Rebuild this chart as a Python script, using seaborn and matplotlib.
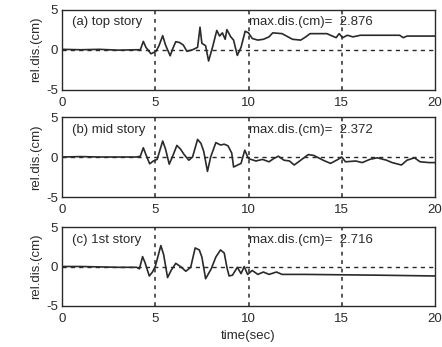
import matplotlib
matplotlib.use("Agg")
import matplotlib.pyplot as plt
import seaborn as sns

# ---- data ----
panel_titles = ["(a) top story", "(b) mid story", "(c) 1st story"]
max_dis = ["2.876", "2.372", "2.716"]
x_ticks = [0, 5, 10, 15, 20]
y_ticks = [-5, 0, 5]

t_top = [0, 1, 2, 3, 4.0, 4.2, 4.36, 4.5, 4.77, 5.04, 5.2, 5.4, 5.55, 5.8, 5.95,
         6.1, 6.3, 6.5, 6.7, 7.0, 7.27, 7.4, 7.5, 7.7, 7.86, 8.07, 8.3, 8.45, 8.6,
         8.75, 8.84, 9.05, 9.2, 9.4, 9.6, 9.82, 10.0, 10.2, 10.5, 10.8, 11.1, 11.3,
         11.8, 12.36, 12.8, 13.07, 13.3, 14.2, 14.7, 14.86, 15.05, 15.3, 15.6, 16.0,
         17.0, 18.1, 18.3, 18.5, 20]
d_top = [0.05, 0.0, 0.05, -0.05, 0.0, 0.0, 1.04, 0.3, -0.5, -0.2, 0.5, 1.75, 0.6, -0.75, 0.2,
         1.0, 0.9, 0.6, -0.2, 0.0, 0.3, 2.8, 0.8, 0.5, -1.4, 0.3, 2.4, 1.7, 2.1,
         1.3, 2.5, 1.6, 1.2, -0.7, 0.3, 2.3, 2.1, 1.4, 1.2, 1.3, 1.6, 2.1,
         2.0, 1.3, 1.2, 1.6, 2.0, 2.0, 1.5, 2.0, 1.5, 1.8, 1.6, 1.8,
         1.8, 1.8, 1.5, 1.7, 1.7]

t_mid = [0, 1, 2, 3, 4.0, 4.2, 4.36, 4.5, 4.7, 4.9, 5.1, 5.4, 5.55, 5.75, 5.95,
         6.16, 6.35, 6.55, 6.8, 7.0, 7.27, 7.45, 7.6, 7.8, 7.97, 8.25, 8.5, 8.7,
         8.9, 9.1, 9.2, 9.6, 9.8, 10.0, 10.4, 10.75, 11.1, 11.35, 11.6, 11.9, 12.2,
         12.45, 12.8, 13.2, 13.5, 14.0, 14.4, 14.8, 15.0, 15.2, 15.75, 16.1, 16.5,
         16.9, 17.4, 17.7, 18.2, 18.5, 18.9, 19.2, 19.7, 20]
d_mid = [0.0, 0.05, 0.0, 0.0, 0.0, 0.1, 1.15, 0.3, -0.85, -0.5, -0.3, 2.0, 1.0, -0.9, 0.2,
         1.45, 1.0, 0.3, -0.4, 0.0, 2.2, 1.7, 0.7, -1.8, 0.0, 1.8, 1.5, 1.6,
         1.4, 0.5, -1.25, -0.8, 0.85, -0.2, -0.5, -0.3, -0.6, -0.2, 0.1, -0.4, -0.5,
         -1.0, -0.4, 0.3, 0.2, -0.4, -0.8, -0.3, 0.0, -0.6, -0.5, -0.7, -0.3,
         -0.1, -0.4, -0.7, -1.0, -0.4, -0.1, -0.6, -0.7, -0.7]

t_1st = [0, 1, 2, 3, 4.0, 4.15, 4.32, 4.45, 4.68, 4.85, 5.0, 5.3, 5.45, 5.66, 5.85,
         6.1, 6.35, 6.64, 6.9, 7.14, 7.36, 7.5, 7.7, 8.0, 8.25, 8.5, 8.7, 8.85,
         8.96, 9.14, 9.4, 9.6, 9.77, 9.95, 10.2, 10.5, 10.8, 11.1, 11.5, 11.8,
         13, 15, 17, 20]
d_1st = [0.0, 0.0, -0.05, -0.1, -0.1, -0.3, 1.25, 0.5, -1.2, -0.7, 0.0, 2.65, 1.5, -1.4, -0.5,
         0.4, 0.0, -0.6, -0.1, 2.35, 2.1, 1.2, -1.55, -0.3, 1.2, 2.1, 1.7, -0.2,
         -1.2, -1.1, -0.1, -0.9, 0.0, -1.0, -0.5, -1.0, -0.7, -1.0, -0.7, -1.0,
         -1.0, -1.05, -1.1, -1.2]

series = [(t_top, d_top), (t_mid, d_mid), (t_1st, d_1st)]

# ---- styling ----
sns.set_style("white")
plt.rcParams["font.family"] = ["Liberation Sans", "DejaVu Sans"]
ink = "#2a2a2a"
fs = 9.5

fig = plt.figure(figsize=(4.42, 3.47), dpi=100)
W, H = 442, 347
boxes = [(9.5, 90), (117, 197), (227, 306)]
left, right = 62, 435

for i, ((top, bot), (t, d)) in enumerate(zip(boxes, series)):
    ax = fig.add_axes([left / W, 1 - bot / H, (right - left) / W, (bot - top) / H])
    sns.lineplot(x=t, y=d, ax=ax, color=ink, lw=1.2, estimator=None, sort=False)
    ax.set_xlim(0, 20)
    ax.set_ylim(-5, 5)
    ax.set_xticks(x_ticks)
    ax.set_yticks(y_ticks)
    ax.set_xticklabels([str(v) for v in x_ticks], fontsize=fs, color=ink)
    ax.set_yticklabels([str(v) for v in y_ticks], fontsize=fs, color=ink)
    ax.tick_params(direction="in", length=2, width=0.8, color=ink)
    ax.tick_params(axis="x", pad=5)
    ax.tick_params(axis="y", pad=3)
    for v in [5, 10, 15]:
        ax.axvline(v, color=ink, ls=(0, (2.5, 3)), lw=1.1, zorder=0)
    ax.axhline(0, color=ink, ls=(0, (3, 3)), lw=1.0, zorder=0)
    for s in ax.spines.values():
        s.set_color(ink)
        s.set_linewidth(1.0)
    ax.set_ylabel("rel.dis.(cm)", fontsize=fs, color=ink, labelpad=3)
    ax.set_xlabel("")
    ax.text(0.55, 3.4, panel_titles[i], fontsize=fs, color=ink, va="center")
    ax.text(10.05, 3.4, "max.dis.(cm)=  " + max_dis[i], fontsize=fs, color=ink, va="center")
    if i == 2:
        ax.set_xlabel("time(sec)", fontsize=fs, color=ink, labelpad=4)

fig.savefig("out.png", dpi=100, facecolor="white")
